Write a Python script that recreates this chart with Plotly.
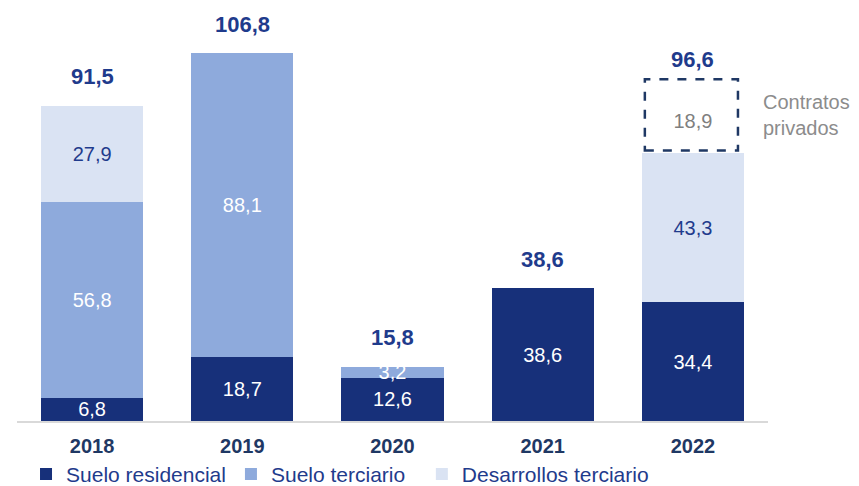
import plotly.graph_objects as go

years = ["2018", "2019", "2020", "2021", "2022"]
suelo_residencial = [6.8, 18.7, 12.6, 38.6, 34.4]
suelo_terciario = [56.8, 88.1, 3.2, None, None]
desarrollos_terciario = [27.9, None, None, None, 43.3]
contratos_privados = [None, None, None, None, 18.9]
totales = [91.5, 106.8, 15.8, 38.6, 96.6]

C_DARK = "#17307a"
C_MID = "#8eaadc"
C_LIGHT = "#dae3f3"
C_TEXT = "#1f3b8c"
C_GRAY = "#8c8c8c"
FONT = "Liberation Sans, Arial, sans-serif"


def fmt(v):
    return "" if v is None else f"{v:.1f}".replace(".", ",")


def bar(name, values, color, textcolor, showlegend=True):
    return go.Bar(
        name=name, x=years, y=values,
        marker=dict(color=color, line=dict(width=0)),
        text=[fmt(v) for v in values],
        textposition="inside", insidetextanchor="middle",
        textangle=0, constraintext="none",
        textfont=dict(family=FONT, size=20, color=textcolor),
        showlegend=showlegend, hoverinfo="skip",
    )


fig = go.Figure()
fig.add_trace(bar("Suelo residencial", suelo_residencial, C_DARK, "white"))
fig.add_trace(bar("Suelo terciario\u00a0\u00a0", suelo_terciario, C_MID, "white"))
fig.add_trace(bar("Desarrollos terciario", desarrollos_terciario, C_LIGHT, C_TEXT))
fig.add_trace(bar("Contratos privados", contratos_privados, "rgba(0,0,0,0)", "#7f7f7f",
                  showlegend=False))

# dashed outline around the private-contracts block
half = (1 - 0.32) / 2
for i, v in enumerate(contratos_privados):
    if v is None:
        continue
    base = sum(s[i] or 0 for s in (suelo_residencial, suelo_terciario, desarrollos_terciario))
    fig.add_shape(type="rect", xref="x", yref="y",
                  x0=i - half + 0.02, x1=i + half - 0.04,
                  y0=base + 0.8, y1=base + v + 2.6,
                  line=dict(color="#1f3864", width=2.5, dash="dash"),
                  fillcolor="rgba(0,0,0,0)")
    fig.add_annotation(x=i, y=base + v / 2 + 1.7, xref="x", yref="y",
                       text="Contratos<br>privados", showarrow=False,
                       xanchor="left", xshift=68, align="left",
                       font=dict(family=FONT, size=20, color=C_GRAY))

# totals above each column
for i, t in enumerate(totales):
    fig.add_annotation(x=i, y=t, xref="x", yref="y", text=f"<b>{fmt(t)}</b>",
                       showarrow=False, yanchor="middle", yshift=29,
                       font=dict(family=FONT, size=22, color=C_TEXT))

fig.update_layout(
    barmode="stack", bargap=0.32,
    width=859, height=486,
    margin=dict(l=17, r=91, t=0, b=65, autoexpand=False),
    plot_bgcolor="white", paper_bgcolor="white",
    font=dict(family=FONT),
    xaxis=dict(type="category", range=[-0.5, 4.5], showline=True,
               linecolor="#d9d9d9", linewidth=2,
               tickfont=dict(family=FONT, size=20, color="#1f3864"),
               tickprefix="<b>", ticksuffix="</b>", ticks="", ticklabelstandoff=6,
               showgrid=False, zeroline=False),
    yaxis=dict(range=[0, 122.2], visible=False, showgrid=False, zeroline=False),
    legend=dict(orientation="h", x=0.012, xanchor="left",
                yref="container", y=0.024, yanchor="middle",
                font=dict(family=FONT, size=21, color=C_TEXT),
                traceorder="normal", itemclick=False),
    showlegend=True,
)

fig.write_html("out.html")
